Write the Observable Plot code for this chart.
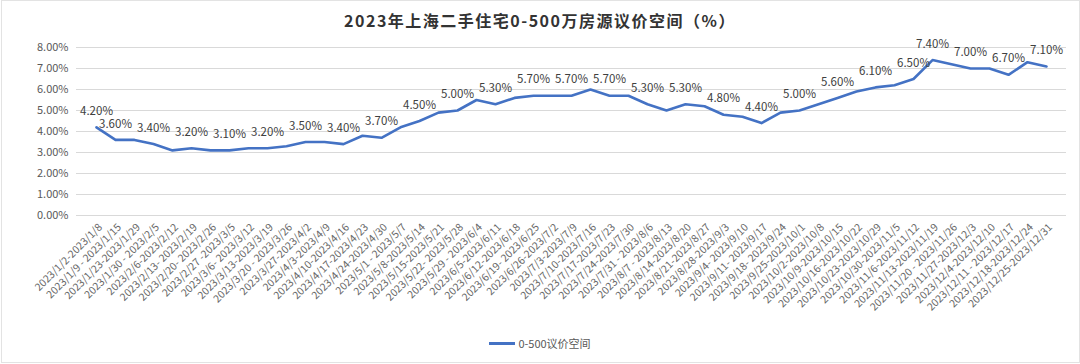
<!DOCTYPE html>
<html>
<head>
<meta charset="utf-8">
<script src="https://cdn.jsdelivr.net/npm/d3@7"></script>
<script src="https://cdn.jsdelivr.net/npm/@observablehq/plot@0.6"></script>
<style>
  html, body { margin: 0; padding: 0; background: #fff; }
  #wrap { position: relative; width: 1080px; height: 364px; overflow: hidden; font-family: "Noto Sans CJK SC", "Noto Sans", sans-serif; }
  #frame { position: absolute; left: 1px; top: 0; width: 1077px; height: 361px; border: 1px solid #e3e3e3; pointer-events: none; }
  #title { height: 26px; padding-top: 6px; line-height: 28px; text-align: center; font-size: 16px; font-weight: bold; color: #333; letter-spacing: 1.5px; }
  #legend { height: 22px; line-height: 22px; display: flex; justify-content: center; align-items: center; font-size: 11px; color: #595959; }
  #legend .sw { display: inline-block; width: 26px; height: 3px; background: #4472C4; margin-right: 3px; }
  svg { display: block; }
</style>
</head>
<body>
<div id="wrap">
  <div id="frame"></div>
  <div id="title">2023年上海二手住宅0-500万房源议价空间（%）</div>
  <div id="chart"></div>
  <div id="legend"><span class="sw"></span><span>0-500议价空间</span></div>
</div>
<script>
const weeks = [
  "2023/1/2-2023/1/8", "2023/1/9 - 2023/1/15", "2023/1/23-2023/1/29", "2023/1/30 - 2023/2/5",
  "2023/2/6-2023/2/12", "2023/2/13- 2023/2/19", "2023/2/20- 2023/2/26", "2023/2/27 -2023/3/5",
  "2023/3/6- 2023/3/12", "2023/3/13-2023/3/19", "2023/3/20 - 2023/3/26", "2023/3/27-2023/4/2",
  "2023/4/3-2023/4/9", "2023/4/10-2023/4/16", "2023/4/17-2023/4/23", "2023/4/24-2023/4/30",
  "2023/5/1 - 2023/5/7", "2023/5/8-2023/5/14", "2023/5/15-2023/5/21", "2023/5/22- 2023/5/28",
  "2023/5/29 - 2023/6/4", "2023/6/5-2023/6/11", "2023/6/12-2023/6/18", "2023/6/19- 2023/6/25",
  "2023/6/26-2023/7/2", "2023/7/3-2023/7/9", "2023/7/10-2023/7/16", "2023/7/17-2023/7/23",
  "2023/7/24-2023/7/30", "2023/7/31 - 2023/8/6", "2023/8/7 - 2023/8/13", "2023/8/14-2023/8/20",
  "2023/8/21-2023/8/27", "2023/8/28-2023/9/3", "2023/9/4- 2023/9/10", "2023/9/11- 2023/9/17",
  "2023/9/18- 2023/9/24", "2023/9/25-2023/10/1", "2023/10/2-2023/10/8", "2023/10/9-2023/10/15",
  "2023/10/16-2023/10/22", "2023/10/23-2023/10/29", "2023/10/30-2023/11/5", "2023/11/6-2023/11/12",
  "2023/11/13-2023/11/19", "2023/11/20 - 2023/11/26", "2023/11/27-2023/12/3", "2023/12/4-2023/12/10",
  "2023/12/11 - 2023/12/17", "2023/12/18-2023/12/24", "2023/12/25-2023/12/31"
];
const bargainSpace = [
  4.2, 3.6, 3.6, 3.4, 3.1, 3.2, 3.1, 3.1, 3.2, 3.2, 3.3, 3.5,
  3.5, 3.4, 3.8, 3.7, 4.2, 4.5, 4.9, 5.0, 5.5, 5.3, 5.6, 5.7,
  5.7, 5.7, 6.0, 5.7, 5.7, 5.3, 5.0, 5.3, 5.2, 4.8, 4.7, 4.4,
  4.9, 5.0, 5.3, 5.6, 5.9, 6.1, 6.2, 6.5, 7.4, 7.2, 7.0, 7.0,
  6.7, 7.3, 7.1
];
const labeledWeeks = [0, 1, 3, 5, 7, 9, 11, 13, 15, 17, 19, 21, 23, 25, 27, 29, 31, 33, 35, 37, 39, 41, 43, 44, 46, 48, 50];
const yTicks = [0, 1, 2, 3, 4, 5, 6, 7, 8];

const data = weeks.map((w, i) => ({week: w, value: bargainSpace[i]}));
const labeled = labeledWeeks.map(i => data[i]);
const fmt = v => v.toFixed(2) + "%";

const chart = Plot.plot({
  width: 1080,
  height: 300,
  marginLeft: 76,
  marginRight: 14,
  marginTop: 15,
  marginBottom: 117,
  style: {fontFamily: "'Noto Sans CJK SC', 'Noto Sans', sans-serif", fontSize: "11px", background: "transparent"},
  x: {type: "point", domain: weeks, padding: 0.5, label: null},
  y: {domain: [0, 8], label: null},
  marks: [
    Plot.gridY(yTicks, {stroke: "#d9d9d9", strokeOpacity: 1, strokeWidth: 1}),
    Plot.axisY(yTicks, {tickSize: 0, tickPadding: 8, tickFormat: fmt, color: "#595959", label: null, fontSize: 11}),
    Plot.axisX({tickSize: 0, tickPadding: 10, tickRotate: -45, color: "#666666", label: null, fontSize: 10.5, dx: 4}),
    Plot.line(data, {x: "week", y: "value", stroke: "#4472C4", strokeWidth: 2.6, strokeLinejoin: "round"}),
    Plot.text(labeled, {x: "week", y: "value", text: d => fmt(d.value), dy: -16, fill: "#404040", fontSize: 11.5})
  ]
});
document.getElementById("chart").appendChild(chart);
</script>
</body>
</html>
